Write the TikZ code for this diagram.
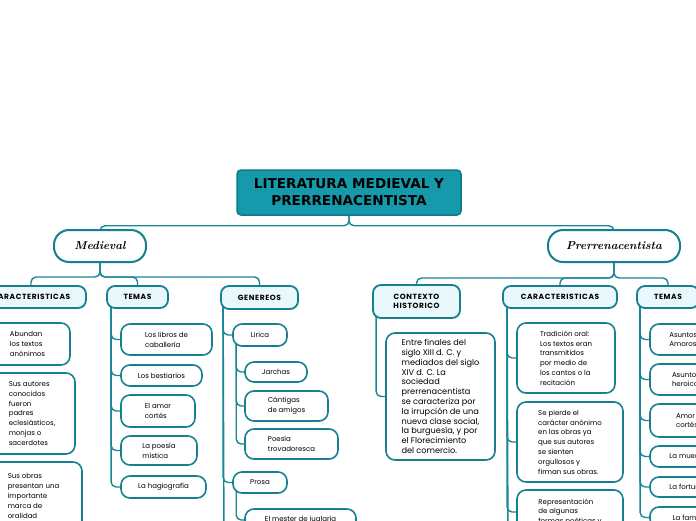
\documentclass[tikz,border=0pt]{standalone}
\usepackage{fontspec}
\newfontfamily\pop{Poppins}
\newfontfamily\popsp{Poppins}[LetterSpace=8]
\newfontfamily\dvs{DejaVu Sans}
\usetikzlibrary{backgrounds}
\definecolor{tealline}{HTML}{1A8798}
\definecolor{tealbord}{HTML}{16808F}
\definecolor{titlefill}{HTML}{1599AB}
\definecolor{titlebord}{HTML}{0E7A89}
\definecolor{headfill}{HTML}{E9F8FC}
\begin{document}
\begin{tikzpicture}[x=1pt,y=-1pt,
 titlebox/.style={draw=titlebord, fill=titlefill, line width=1.5pt, rounded corners=4pt, align=center, font=\dvs\bfseries\fontsize{13.6}{17}\selectfont, inner sep=0pt},
 mainbox/.style={draw=tealbord, fill=white, line width=2pt, rounded corners=15pt, font=\itshape\bfseries\fontsize{11.5}{14}\selectfont, inner sep=0pt},
 headbox/.style={draw=tealbord, fill=headfill, line width=1.8pt, rounded corners=8pt, align=center, font=\popsp\bfseries\fontsize{7.5}{9}\selectfont, inner sep=0pt},
 leafbox/.style={draw=tealbord, fill=white, line width=1.6pt, rounded corners=9pt, align=left, font=\pop\fontsize{7}{9.8}\selectfont, inner sep=0pt},
 conn/.style={draw=tealline, line width=1.4pt, rounded corners=5pt},
 sz/.style 2 args={minimum width=#1pt, minimum height=#2pt},
]
\useasboundingbox (0,0) rectangle (696,520);

% top levels
\node[titlebox, sz={224}{45}] (title) at (349,192.5) {LITERATURA MEDIEVAL Y\\PRERRENACENTISTA};
\node[mainbox, sz={92}{32}] (med) at (100,246) {Medieval};
\node[mainbox, sz={132}{32}] (pre) at (614,246) {Prerrenacentista};

% Medieval headings
\node[headbox, sz={110}{22}] (cL) at (31,297) {CARACTERISTICAS};
\node[headbox, sz={61}{22}] (temL) at (137.5,297) {TEMAS};
\node[headbox, sz={77}{23}] (gen) at (259.5,297.5) {GENEREOS};

% left caracteristicas
\node[leafbox, sz={85}{42}] (a1) at (27.5,344) {Abundan\\los textos\\anónimos};
\node[leafbox, sz={86}{81}] (a2) at (32,413.5) {Sus autores\\conocidos\\fueron\\padres\\eclesiásticos,\\monjas o\\sacerdotes};
\node[leafbox, sz={97}{68}] (a3) at (33.5,496) {Sus obras\\presentan una\\importante\\marca de\\oralidad};

% left temas
\node[leafbox, sz={91}{31}] (t1) at (166.5,339.5) {Los libros de\\caballería};
\node[leafbox, sz={81}{21}] (t2) at (161.5,375.5) {Los bestiarios};
\node[leafbox, sz={74}{32}] (t3) at (158,411) {El amor\\cortés};
\node[leafbox, sz={76}{29}] (t4) at (159,450.5) {La poesía\\mística};
\node[leafbox, sz={85}{22}] (t5) at (163.5,487) {La hagiografía};

% generos
\node[leafbox, sz={54}{22}] (g1) at (260,335) {Lirica};
\node[leafbox, sz={54}{21}] (g2) at (260,482.5) {Prosa};
\node[leafbox, sz={62}{20}] (l1) at (276,372) {Jarchas};
\node[leafbox, sz={83}{30}] (l2) at (286.5,406) {Cántigas\\de amigos};
\node[leafbox, sz={93}{30}] (l3) at (291.5,444) {Poesía\\trovadoresca};
\node[leafbox, sz={111}{22}] (p1) at (300.5,520) {El mester de juglaría};
\coordinate (genEnd) at (224,540);

% Prerrenacentista headings
\node[headbox, sz={87}{33}] (ctx) at (416.5,301.5) {CONTEXTO\\HISTORICO};
\node[headbox, sz={114}{22}] (cR) at (560,297) {CARACTERISTICAS};
\node[headbox, sz={62}{22}] (temR) at (668,297) {TEMAS};

\node[leafbox, sz={109}{127}, font=\pop\fontsize{8.2}{9.8}\selectfont] (c1) at (440.5,396.5) {Entre finales del\\siglo XIII d. C. y\\mediados del siglo\\XIV d. C. La\\sociedad\\prerrenacentista\\se caracteriza por\\la irrupción de una\\nueva clase social,\\la burguesía, y por\\el Florecimiento\\del comercio.};

\node[leafbox, sz={98}{70}] (r1) at (566,358) {Tradición oral:\\Los textos eran\\transmitidos\\por medio de\\los cantos o la\\recitación};
\node[leafbox, sz={106}{80}] (r2) at (570,442) {Se pierde el\\carácter anónimo\\en las obras ya\\que sus autores\\se sienten\\orgullosos y\\firman sus obras.};
\node[leafbox, sz={106}{44}] (r3) at (570,512) {Representación\\de algunas\\formas poéticas y};
\coordinate (crEnd) at (508,540);

\node[leafbox, sz={74}{31}] (s1) at (687,339.5) {Asuntos\\Amorosos};
\node[leafbox, sz={74}{31}] (s2) at (687,379.5) {Asuntos\\heroicos};
\node[leafbox, sz={74}{33}] (s3) at (687,420.5) {Amor\\cortés};
\node[leafbox, sz={74}{21}] (s4) at (687,456.5) {La muerte};
\node[leafbox, sz={74}{20}] (s5) at (687,487) {La fortuna};
\node[leafbox, sz={74}{21}] (s6) at (687,517.5) {La fama};

\begin{scope}[on background layer]
\fill[white] (0,0) rectangle (696,520);
% title to mains
\draw[conn] (title.south) -- ++(0,10) -| (med.north);
\draw[conn] (title.south) -- ++(0,10) -| (pre.north);
% medieval to headings
\draw[conn] (med.south) -- ++(0,14) -| (cL.north);
\draw[conn] (med.south) -- ++(0,14) -| (temL.north);
\draw[conn] (med.south) -- ++(0,14) -| (gen.north);
% pre to headings
\draw[conn] (pre.south) -- ++(0,15) -| (ctx.north);
\draw[conn] (pre.south) -- ++(0,15) -| (cR.north);
\draw[conn] (pre.south) -- ++(0,15) -| (temR.north);
% spines
\foreach \c in {a1,a2,a3} \draw[conn] ([xshift=5pt,yshift=5pt]cL.south west) |- (\c.west);
\foreach \c in {t1,t2,t3,t4,t5} \draw[conn] ([xshift=5pt,yshift=5pt]temL.south west) |- (\c.west);
\foreach \c in {g1,g2} \draw[conn] ([xshift=3pt,yshift=5pt]gen.south west) |- (\c.west);
\draw[conn] ([xshift=3pt,yshift=5pt]gen.south west) -- (genEnd);
\foreach \c in {l1,l2,l3} \draw[conn] ([xshift=4pt,yshift=5pt]g1.south west) |- (\c.west);
\draw[conn] ([xshift=4pt,yshift=5pt]g2.south west) |- (p1.west);
\draw[conn] ([xshift=4pt,yshift=5pt]ctx.south west) |- (c1.west);
\foreach \c in {r1,r2,r3} \draw[conn] ([xshift=5pt,yshift=5pt]cR.south west) |- (\c.west);
\draw[conn] ([xshift=5pt,yshift=5pt]cR.south west) -- (crEnd);
\foreach \c in {s1,s2,s3,s4,s5,s6} \draw[conn] ([xshift=4pt,yshift=5pt]temR.south west) |- (\c.west);
\end{scope}
\end{tikzpicture}
\end{document}
